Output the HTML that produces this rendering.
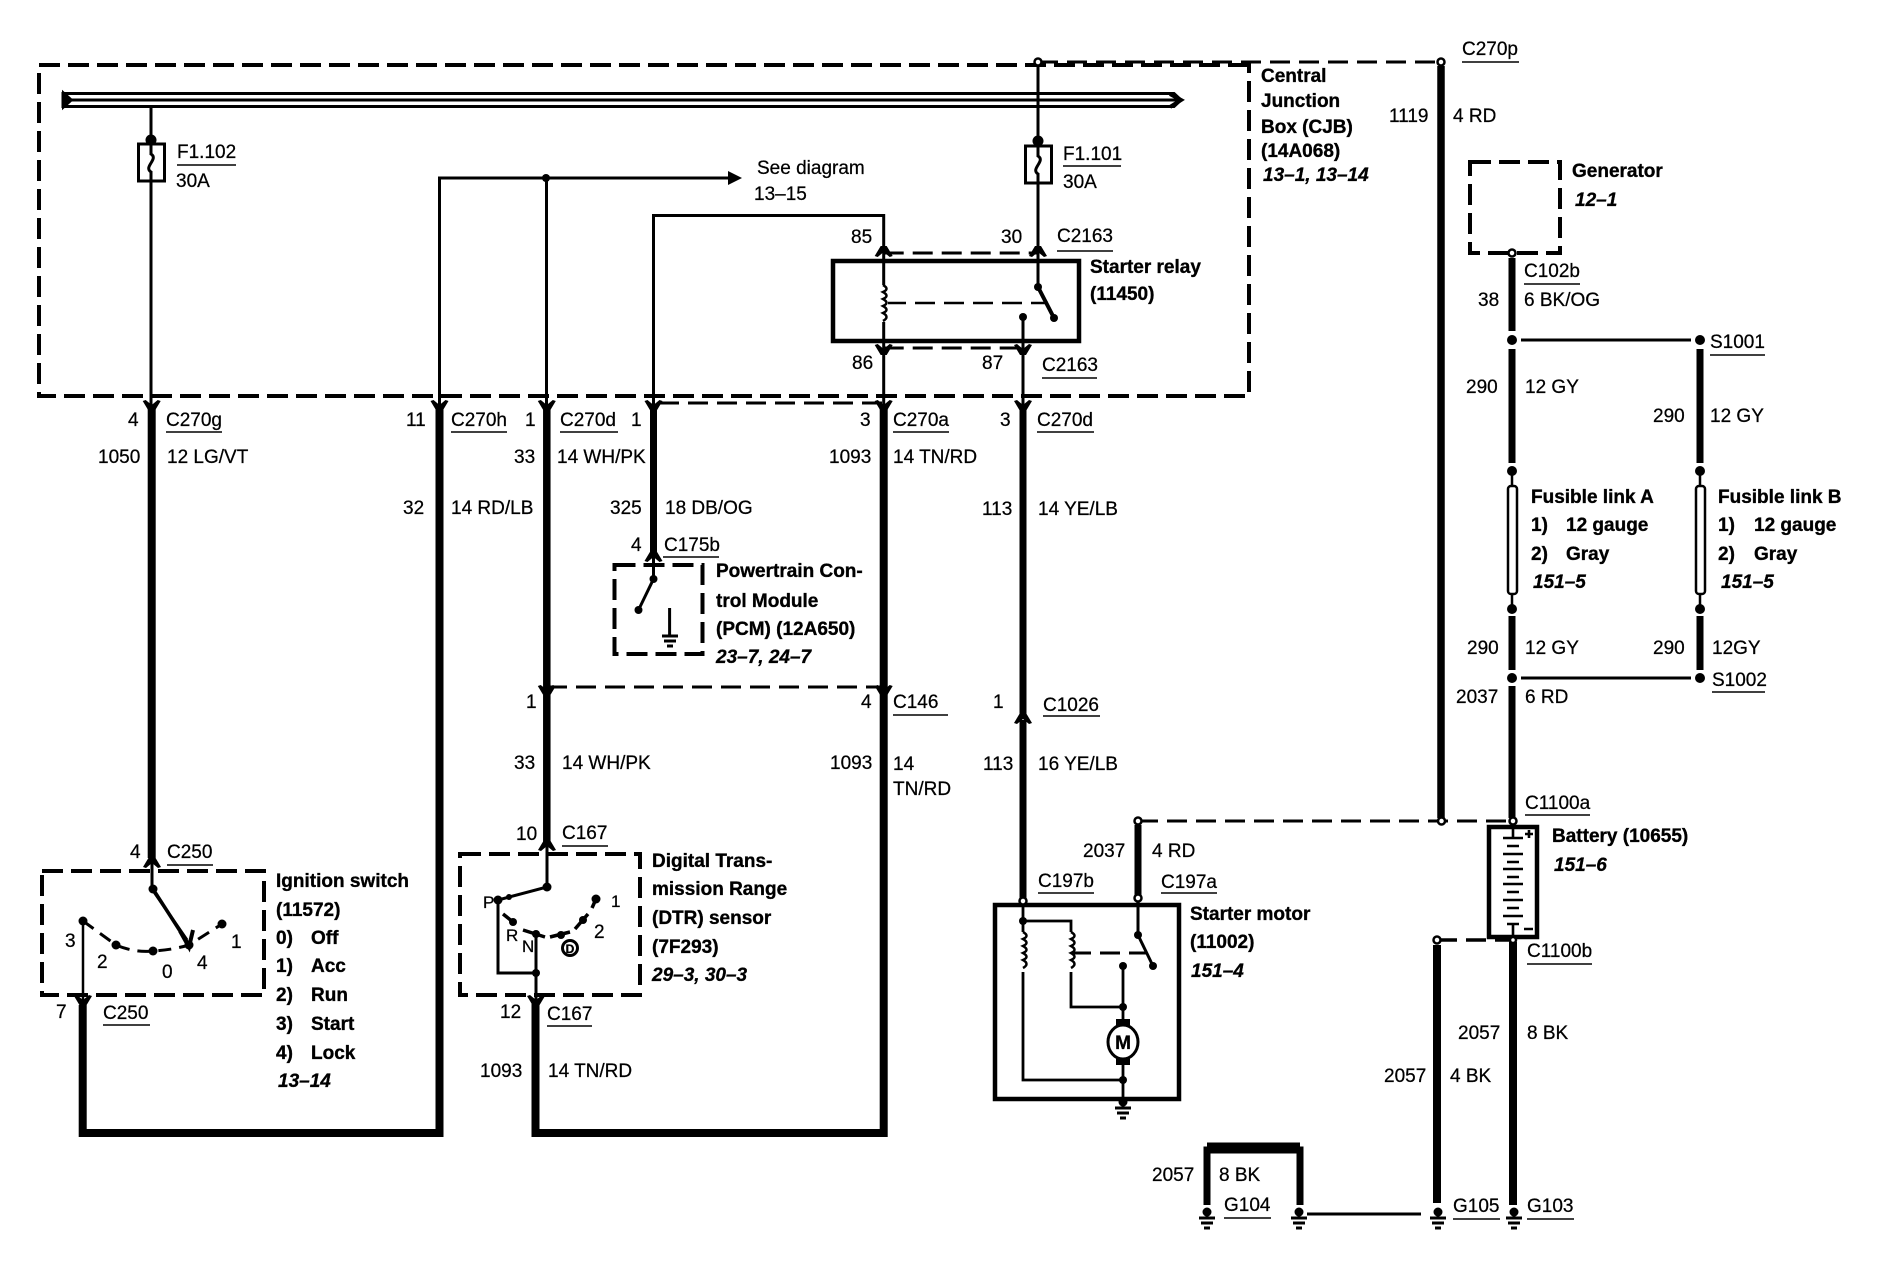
<!DOCTYPE html>
<html><head><meta charset="utf-8"><style>
html,body{margin:0;padding:0;background:#fff}
svg{display:block}
text{font-family:"Liberation Sans",sans-serif;font-size:19px;fill:#000;stroke:#000;stroke-width:.25}
.b{font-weight:bold;stroke-width:.35}
.i{font-weight:bold;font-style:italic;stroke-width:.3}
.s{font-size:17px}
</style></head><body>
<svg xmlns="http://www.w3.org/2000/svg" width="1884" height="1264" viewBox="0 0 1884 1264">
<defs>
<path id="dn" d="M-9,-5 L-6,-6 L0,-1 L6,-6 L9,-5 L3,5 H-3Z" fill="#000"/>
<path id="up" d="M-9,5 L-6,6 L0,1 L6,6 L9,5 L3,-5 H-3Z" fill="#000"/>
<g id="gnd"><circle cx="0" cy="4" r="4.5" fill="#000"/><path d="M0,0V10M-8,10H8M-6,15H6M-3,20H3" stroke="#000" stroke-width="3" fill="none"/></g>
<g id="coil"><path d="M0,0 q7,4 0,7 q7,4 0,7 q7,4 0,7 q7,4 0,7 q7,4 0,8" fill="none" stroke="#000" stroke-width="2.5"/></g>
</defs>
<g fill="none" stroke="#000">
<!-- CJB -->
<path d="M1249,65H39V396H1249Z" stroke-width="4" stroke-dasharray="21 8"/>
<!-- Bus -->
<path d="M63,93.5H1174L1181,100L1174,106.5H63Z" stroke-width="3"/>
<path d="M63,100H1178" stroke-width="3"/>
<path d="M63,92L72,100L63,108Z" fill="#000" stroke-width="2"/>
<path d="M1170,94L1181,100L1170,107" stroke-width="4"/>
<!-- thin wires CJB -->
<path d="M151,107V405" stroke-width="3"/>
<path d="M439.5,405V178H730" stroke-width="3"/>
<path d="M546.5,178V405" stroke-width="3"/>
<path d="M653.5,405V215.5H883.7V405" stroke-width="3"/>
<path d="M1038,62V287" stroke-width="3"/>
<path d="M1023,317V405" stroke-width="3"/>
<rect x="138.5" y="144" width="26" height="37" fill="#fff" stroke-width="3"/>
<path d="M151,144v10c8,5 -8,13 0,18v9" stroke-width="3"/>
<rect x="1025.5" y="146" width="26" height="37" fill="#fff" stroke-width="3"/>
<path d="M1038,146v10c8,5 -8,13 0,18v9" stroke-width="3"/>
<!-- Relay -->
<rect x="833" y="261" width="246" height="80" stroke-width="4.5"/>
<path d="M883.7,253H1038M883.7,348H1023" stroke-width="3" stroke-dasharray="20 9"/>
<path d="M886,303H1048" stroke-width="2.5" stroke-dasharray="20 9"/>
<path d="M1038,287L1054,318" stroke-width="4"/>
<rect x="879" y="285" width="9" height="37" fill="#fff" stroke="none"/>
<use href="#coil" x="883" y="285"/>
<!-- upper dashed -->
<path d="M1038,62H1441" stroke-width="3" stroke-dasharray="20 9"/>
<path d="M659,403H884" stroke-width="3" stroke-dasharray="20 9"/>
<path d="M547,687H884" stroke-width="3" stroke-dasharray="20 9"/>
<path d="M1138,821H1513" stroke-width="3" stroke-dasharray="20 9"/>
<path d="M1437,940H1513" stroke-width="3.5" stroke-dasharray="20 9"/>
<!-- thick wires -->
<path d="M151.7,405V858" stroke-width="8"/>
<path d="M82.7,1005V1133H439.5V405" stroke-width="8"/>
<path d="M546.8,405V690M546.8,695V842" stroke-width="7.5"/>
<path d="M653.5,405V552" stroke-width="7"/>
<path d="M535.5,1003V1133H883.7V405" stroke-width="8"/>
<path d="M1023,405V715M1023,720V902" stroke-width="7"/>
<path d="M1441,66V818" stroke-width="7.5"/>
<path d="M1512,258V331M1512,349V463M1512,616V670M1512,686V818" stroke-width="7"/>
<path d="M1700,349V463M1700,616V670" stroke-width="7"/>
<path d="M1138,825V895" stroke-width="7"/>
<path d="M1437,945V1203" stroke-width="8"/>
<path d="M1513,942V1205" stroke-width="8"/>
<path d="M1207,1205V1150H1300V1205" stroke-width="7"/>
<path d="M1207,1147H1300" stroke-width="9"/>
<path d="M1307,1214H1421" stroke-width="3"/>
<path d="M1521,340H1691M1521,678H1691" stroke-width="3"/>
<!-- Fusible -->
<path d="M1512,471V609M1700,471V609" stroke-width="2.5"/>
<rect x="1508" y="486" width="9" height="108" rx="3" fill="#fff" stroke-width="2.5"/>
<rect x="1696" y="486" width="9" height="108" rx="3" fill="#fff" stroke-width="2.5"/>
<!-- Generator -->
<rect x="1470" y="162" width="90" height="91" stroke-width="4" stroke-dasharray="21 8"/>
<!-- PCM -->
<rect x="614.5" y="565" width="88" height="89" stroke-width="4" stroke-dasharray="21 8"/>
<path d="M653.5,555V579L638.5,610" stroke-width="3"/>
<!-- Ignition -->
<rect x="42" y="871" width="222" height="124" stroke-width="4" stroke-dasharray="21 8"/>
<path d="M152,860V889L187,940" stroke-width="3"/>
<path d="M83,921L116,945Q135,953 153,951Q172,950 189,945L222,924" stroke-width="3" stroke-dasharray="13 8"/>
<path d="M83,921V1003" stroke-width="2.5"/>
<path d="M153,889L189,945" stroke-width="3.5"/>
<path d="M180,931L189,947L193,930" stroke-width="4"/>
<!-- DTR -->
<rect x="460" y="854" width="180" height="141" stroke-width="4" stroke-dasharray="21 8"/>
<path d="M547,840V887L498,900V973H536" stroke-width="3"/>
<path d="M536,934V1003" stroke-width="3"/>
<path d="M503,914L513,922M523,930L545,937M550,937L570,932M575,929L588,914M592,908L596,899" stroke-width="3.5"/>
<circle cx="570" cy="948" r="7.5" stroke-width="3"/>
<!-- Starter motor -->
<rect x="995" y="905" width="184" height="194" stroke-width="4.5"/>
<path d="M1023,902V932M1023,972V1080H1123M1023,921H1071V932M1071,972V1007H1123M1123,966V1020M1123,1064V1100" stroke-width="2.8"/>
<use href="#coil" x="1023" y="932"/>
<use href="#coil" x="1071" y="932"/>
<path d="M1138,898V935L1153,966" stroke-width="3"/>
<path d="M1071,953H1147" stroke-width="3" stroke-dasharray="20 9"/>
<rect x="1116" y="1019" width="14" height="9" fill="#000" stroke="none"/>
<rect x="1116" y="1056" width="14" height="9" fill="#000" stroke="none"/>
<ellipse cx="1123" cy="1042" rx="15" ry="17" fill="#fff" stroke-width="3"/>
<!-- Battery -->
<rect x="1489" y="827" width="48" height="110" stroke-width="4.5"/>
<path d="M1513,824V838M1503,838H1523M1507,846H1519M1503,854H1523M1507,862H1519M1503,869H1523M1507,877H1519M1503,884H1523M1507,892H1519M1503,900H1523M1507,908H1519M1503,916H1523M1507,924H1519M1513,924V937" stroke-width="2.6"/>
<path d="M1525,834H1533M1529,830V838M1524,929H1533" stroke-width="2.6"/>
<!-- Underlines -->
<g stroke-width="1.6">
<path d="M177,165H236M1063,166H1121M1057,251H1113M1042,378H1097M1462,62H1519M1524,284H1580M1710,355H1765M1712,692H1765M1525,815H1590M1527,964H1592M1453,1219H1500M1527,1219H1574M1224,1218H1271M1038,893H1094M1161,893H1217M1043,716H1100"/>
<path d="M166,432H222M451,432H507M560,432H618M893,432H949M1037,432H1094M663,557H719M893,715H948M562,846H608M167,865H213M103,1025H150M547,1026H592"/>
</g>
</g>
<!-- connector chevrons -->
<g>
<use href="#dn" x="151.7" y="406"/><use href="#dn" x="439.5" y="406"/><use href="#dn" x="546.8" y="406"/><use href="#dn" x="653.5" y="406"/><use href="#dn" x="883.7" y="406"/><use href="#dn" x="1023" y="406"/>
<use href="#up" x="883.7" y="251"/><use href="#up" x="1038" y="251"/><use href="#dn" x="883.7" y="350"/><use href="#dn" x="1023" y="350"/>
<use href="#up" x="653.5" y="556"/><use href="#dn" x="546.8" y="691"/><use href="#dn" x="883.7" y="691"/><use href="#up" x="1023" y="718"/>
<use href="#up" x="152" y="862"/><use href="#up" x="547" y="845"/><use href="#dn" x="83" y="1001"/><use href="#dn" x="536" y="1001"/>
</g>
<!-- nodes -->
<g fill="#000">
<circle cx="151" cy="140" r="5.5"/><circle cx="1038" cy="141" r="5.5"/><circle cx="546" cy="178" r="4"/>
<path d="M728,171L742,178L728,185Z"/>
<circle cx="1038" cy="287" r="4"/><circle cx="1054" cy="318" r="4"/><circle cx="1023" cy="317" r="4"/>
<circle cx="1512" cy="340" r="5"/><circle cx="1700" cy="340" r="5"/><circle cx="1512" cy="471" r="5"/><circle cx="1700" cy="471" r="5"/><circle cx="1512" cy="609" r="5"/><circle cx="1700" cy="609" r="5"/><circle cx="1512" cy="678" r="5"/><circle cx="1700" cy="678" r="5"/>
<circle cx="653.5" cy="579" r="4"/><circle cx="638.5" cy="610" r="4"/>
<circle cx="153" cy="889" r="4.5"/><circle cx="83" cy="921" r="4.5"/><circle cx="116" cy="945" r="4.5"/><circle cx="153" cy="951" r="4.5"/><circle cx="189" cy="945" r="4.5"/><circle cx="222" cy="924" r="4.5"/>
<circle cx="547" cy="887" r="4.5"/><circle cx="498" cy="900" r="4.5"/><circle cx="509" cy="897" r="3"/><circle cx="513" cy="922" r="4"/><circle cx="536" cy="934" r="4"/><circle cx="561" cy="935" r="4"/><circle cx="583" cy="920" r="4"/><circle cx="596" cy="899" r="4.5"/><circle cx="536" cy="973" r="4"/>
<circle cx="1023" cy="921" r="4"/><circle cx="1123" cy="966" r="4"/><circle cx="1123" cy="1007" r="4"/><circle cx="1123" cy="1080" r="4"/><circle cx="1138" cy="935" r="4"/><circle cx="1153" cy="966" r="4"/>
</g>
<!-- open circles -->
<g fill="#fff" stroke="#000" stroke-width="2.5">
<circle cx="1038" cy="62" r="3.5"/><circle cx="1441" cy="62" r="3.5"/><circle cx="1512" cy="253" r="3.5"/><circle cx="1138" cy="821" r="3.5"/><circle cx="1441.5" cy="821" r="3.5"/><circle cx="1513" cy="821" r="3.5"/><circle cx="1437" cy="940" r="3.5"/><circle cx="1513" cy="940" r="3"/><circle cx="1023" cy="901" r="3.5"/><circle cx="1138" cy="898" r="3.5"/>
</g>
<!-- grounds -->
<use href="#gnd" x="1207" y="1208"/><use href="#gnd" x="1299" y="1208"/><use href="#gnd" x="1438" y="1208"/><use href="#gnd" x="1514" y="1208"/><use href="#gnd" x="1123" y="1098"/>
<path d="M669.6,608V636M662,636H678M664,641H676M667,646H673" stroke="#000" stroke-width="3" fill="none"/>
<!-- labels -->
<text x="177" y="158">F1.102</text><text x="176" y="187">30A</text>
<text x="1063" y="160">F1.101</text><text x="1063" y="188">30A</text>
<text x="757" y="174">See diagram</text><text x="754" y="200">13–15</text>
<text class="b" x="1261" y="82">Central</text><text class="b" x="1261" y="107">Junction</text><text class="b" x="1261" y="133">Box (CJB)</text><text class="b" x="1261" y="157">(14A068)</text><text class="i" x="1263" y="181">13–1, 13–14</text>
<text x="1462" y="55">C270p</text><text x="1389" y="122">1119</text><text x="1453" y="122">4 RD</text>
<text class="b" x="1572" y="177">Generator</text><text class="i" x="1575" y="206">12–1</text>
<text x="1524" y="277">C102b</text><text x="1478" y="306">38</text><text x="1524" y="306">6 BK/OG</text>
<text x="1710" y="348">S1001</text><text x="1466" y="393">290</text><text x="1525" y="393">12 GY</text><text x="1653" y="422">290</text><text x="1710" y="422">12 GY</text>
<text class="b" x="1531" y="503">Fusible link A</text><text class="b" x="1531" y="531">1)</text><text class="b" x="1566" y="531">12 gauge</text><text class="b" x="1531" y="560">2)</text><text class="b" x="1566" y="560">Gray</text><text class="i" x="1533" y="588">151–5</text>
<text class="b" x="1718" y="503">Fusible link B</text><text class="b" x="1718" y="531">1)</text><text class="b" x="1754" y="531">12 gauge</text><text class="b" x="1718" y="560">2)</text><text class="b" x="1754" y="560">Gray</text><text class="i" x="1721" y="588">151–5</text>
<text x="1467" y="654">290</text><text x="1525" y="654">12 GY</text><text x="1653" y="654">290</text><text x="1712" y="654">12GY</text>
<text x="1712" y="686">S1002</text><text x="1456" y="703">2037</text><text x="1525" y="703">6 RD</text>
<text x="1525" y="809">C1100a</text><text class="b" x="1552" y="842">Battery (10655)</text><text class="i" x="1554" y="871">151–6</text><text x="1527" y="957">C1100b</text>
<text x="1458" y="1039">2057</text><text x="1527" y="1039">8 BK</text><text x="1384" y="1082">2057</text><text x="1450" y="1082">4 BK</text>
<text x="1453" y="1212">G105</text><text x="1527" y="1212">G103</text><text x="1224" y="1211">G104</text><text x="1152" y="1181">2057</text><text x="1219" y="1181">8 BK</text>
<text x="1038" y="887">C197b</text><text x="1161" y="888">C197a</text><text x="1083" y="857">2037</text><text x="1152" y="857">4 RD</text>
<text class="b" x="1190" y="920">Starter motor</text><text class="b" x="1190" y="948">(11002)</text><text class="i" x="1191" y="977">151–4</text>
<text class="b" x="1123" y="1049" text-anchor="middle" style="font-size:19px">M</text>
<text x="851" y="243">85</text><text x="1001" y="243">30</text><text x="1057" y="242">C2163</text><text x="852" y="369">86</text><text x="982" y="369">87</text><text x="1042" y="371">C2163</text>
<text class="b" x="1090" y="273">Starter relay</text><text class="b" x="1090" y="300">(11450)</text>
<text x="128" y="426">4</text><text x="166" y="426">C270g</text><text x="98" y="463">1050</text><text x="167" y="463">12 LG/VT</text>
<text x="406" y="426">11</text><text x="451" y="426">C270h</text><text x="403" y="514">32</text><text x="451" y="514">14 RD/LB</text>
<text x="525" y="426">1</text><text x="560" y="426">C270d</text><text x="514" y="463">33</text><text x="557" y="463">14 WH/PK</text>
<text x="631" y="426">1</text><text x="610" y="514">325</text><text x="665" y="514">18 DB/OG</text><text x="631" y="551">4</text><text x="664" y="551">C175b</text>
<text x="860" y="426">3</text><text x="893" y="426">C270a</text><text x="829" y="463">1093</text><text x="893" y="463">14 TN/RD</text>
<text x="1000" y="426">3</text><text x="1037" y="426">C270d</text><text x="982" y="515">113</text><text x="1038" y="515">14 YE/LB</text>
<text x="993" y="708">1</text><text x="1043" y="711">C1026</text><text x="983" y="770">113</text><text x="1038" y="770">16 YE/LB</text>
<text class="b" x="716" y="577">Powertrain Con-</text><text class="b" x="716" y="607">trol Module</text><text class="b" x="716" y="635">(PCM) (12A650)</text><text class="i" x="716" y="663">23–7, 24–7</text>
<text x="526" y="708">1</text><text x="861" y="708">4</text><text x="893" y="708">C146</text>
<text x="514" y="769">33</text><text x="562" y="769">14 WH/PK</text><text x="830" y="769">1093</text><text x="893" y="770">14</text><text x="893" y="795">TN/RD</text>
<text x="516" y="840">10</text><text x="562" y="839">C167</text><text x="130" y="858">4</text><text x="167" y="858">C250</text>
<text class="b" x="652" y="867">Digital Trans-</text><text class="b" x="652" y="895">mission Range</text><text class="b" x="652" y="924">(DTR) sensor</text><text class="b" x="652" y="953">(7F293)</text><text class="i" x="652" y="981">29–3, 30–3</text>
<text class="s" x="483" y="908">P</text><text class="s" x="506" y="941">R</text><text class="s" x="522" y="952">N</text><text class="s" x="611" y="907">1</text><text x="594" y="938">2</text>
<text class="b" x="570" y="953" text-anchor="middle" style="font-size:12px">D</text>
<text x="500" y="1018">12</text><text x="547" y="1020">C167</text><text x="480" y="1077">1093</text><text x="548" y="1077">14 TN/RD</text>
<text class="b" x="276" y="887">Ignition switch</text><text class="b" x="276" y="916">(11572)</text>
<text class="b" x="276" y="944">0)</text><text class="b" x="311" y="944">Off</text><text class="b" x="276" y="972">1)</text><text class="b" x="311" y="972">Acc</text><text class="b" x="276" y="1001">2)</text><text class="b" x="311" y="1001">Run</text><text class="b" x="276" y="1030">3)</text><text class="b" x="311" y="1030">Start</text><text class="b" x="276" y="1059">4)</text><text class="b" x="311" y="1059">Lock</text><text class="i" x="278" y="1087">13–14</text>
<text x="65" y="947">3</text><text x="97" y="968">2</text><text x="162" y="978">0</text><text x="197" y="969">4</text><text x="231" y="948">1</text>
<text x="56" y="1018">7</text><text x="103" y="1019">C250</text>
</svg>
</body></html>
